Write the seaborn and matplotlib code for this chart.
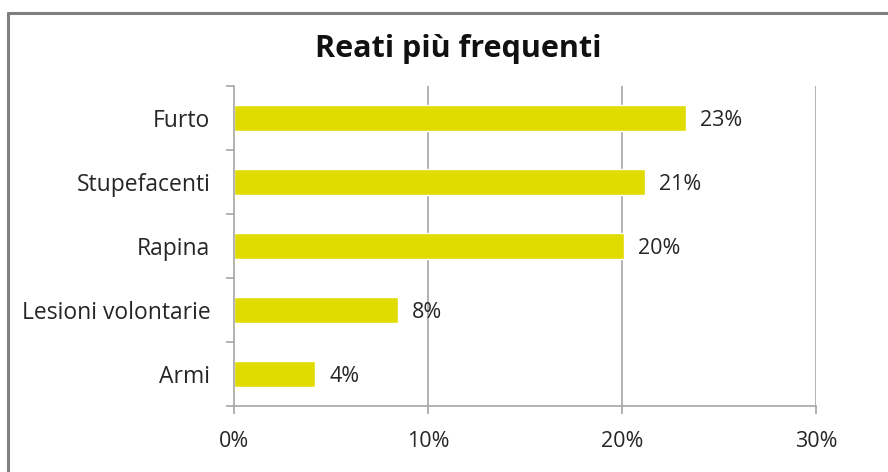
import matplotlib
matplotlib.use("Agg")
import matplotlib.pyplot as plt
import seaborn as sns
import pandas as pd
from matplotlib.lines import Line2D
from matplotlib.ticker import FixedLocator

categories = ["Furto", "Stupefacenti", "Rapina", "Lesioni volontarie", "Armi"]
values = [23.3, 21.2, 20.1, 8.45, 4.2]
value_labels = ["23%", "21%", "20%", "8%", "4%"]
x_ticks = [0, 10, 20, 30]
x_tick_labels = ["0%", "10%", "20%", "30%"]
title = "Reati più frequenti"

sns.set_theme(style="white")
plt.rcParams["font.family"] = ["Open Sans", "DejaVu Sans"]

df = pd.DataFrame({"categoria": categories, "valore": values})

fig = plt.figure(figsize=(8.88, 4.72), dpi=100)
ax = fig.add_axes([234/888, 1-406/472, (816-234)/888, (406-86)/472])

grid_c = "#A6A6A6"
text_c = "#262626"
sns.barplot(data=df, x="valore", y="categoria", orient="h", color="#E0DC00",
            saturation=1, width=0.4, ax=ax, zorder=3)

ax.set_xlim(0, 30)
ax.set_ylim(len(categories) - 0.5, -0.5)
ax.set_xlabel("")
ax.set_ylabel("")

ax.set_xticks(x_ticks)
ax.set_xticklabels(x_tick_labels)
for xv in x_ticks[1:]:
    ax.axvline(xv, color=grid_c, lw=1.2, zorder=1)

# y-axis: tick marks on category boundaries, labels at centers
ax.yaxis.set_minor_locator(FixedLocator([i - 0.5 for i in range(len(categories) + 1)]))
ax.tick_params(axis="y", which="major", length=0, pad=17, labelsize=16.5, labelcolor=text_c)
ax.tick_params(axis="y", which="minor", length=6, width=1.2, color=grid_c, left=True)
ax.tick_params(axis="x", which="major", length=6, width=1.2, color=grid_c, bottom=True,
               pad=12, labelsize=15.5, labelcolor=text_c)

for s in ["top", "right"]:
    ax.spines[s].set_visible(False)
for s in ["left", "bottom"]:
    ax.spines[s].set_color(grid_c)
    ax.spines[s].set_linewidth(1.2)
    ax.spines[s].set_zorder(4)

for i, (v, lab) in enumerate(zip(values, value_labels)):
    ax.annotate(lab, xy=(v, i), xytext=(10, -1.5), textcoords="offset points",
                va="center", ha="left", fontsize=15.5, color=text_c)

fig.text(458/888, 1-49/472, title, ha="center", va="center", fontsize=22,
         fontweight="bold", color="#111111")

# chart border (top and left edges visible)
fig.add_artist(Line2D([8/888, 8/888], [0, 1-13/472], transform=fig.transFigure,
                      color="#7F7F7F", lw=2.2))
fig.add_artist(Line2D([8/888, 1], [1-13/472, 1-13/472], transform=fig.transFigure,
                      color="#7F7F7F", lw=2.2))

fig.savefig("out.png", dpi=100, facecolor="white")
